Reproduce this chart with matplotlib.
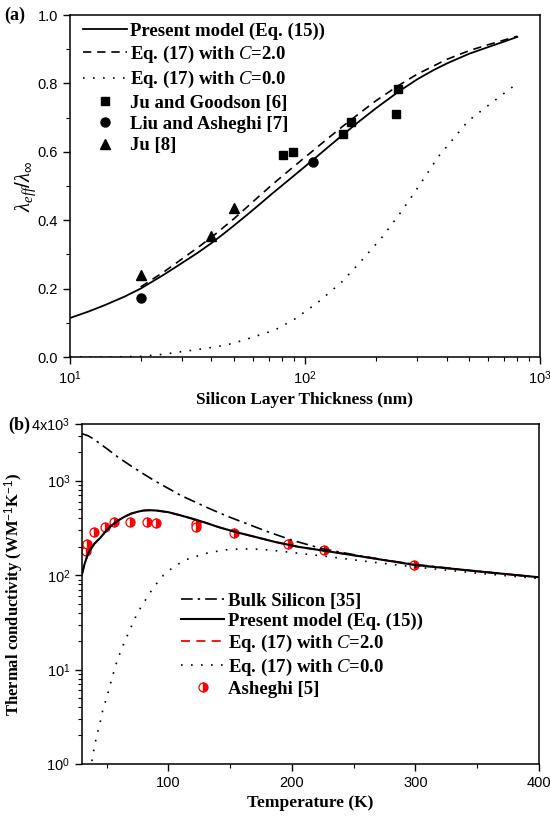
import numpy as np
import matplotlib
matplotlib.use("Agg")
import matplotlib.pyplot as plt
from matplotlib.ticker import LogLocator, NullFormatter, FixedLocator, MultipleLocator

# ---- panel (a): normalised conductivity vs. layer thickness ----
thick_model = [10, 12, 14, 17, 20, 25, 30, 35, 40, 45, 50, 57, 64, 72, 81, 90, 100, 108, 125,
               145, 170, 200, 250, 300, 350, 400, 500, 600, 700, 800]
model_a = [0.114, 0.133, 0.151, 0.176, 0.200, 0.240, 0.275, 0.305, 0.333, 0.360, 0.385, 0.417,
           0.446, 0.476, 0.505, 0.531, 0.557, 0.576, 0.613, 0.650, 0.689, 0.727, 0.776, 0.812,
           0.838, 0.858, 0.887, 0.906, 0.922, 0.936]
thick_c2 = [20, 25, 30, 35, 40, 45, 50, 57, 64, 72, 81, 90, 100, 125, 145, 170, 200, 250, 300,
            400, 500, 600, 800]
c2_a = [0.205, 0.248, 0.287, 0.320, 0.350, 0.379, 0.405, 0.440, 0.471, 0.502, 0.532, 0.558,
        0.584, 0.639, 0.675, 0.712, 0.749, 0.794, 0.827, 0.870, 0.896, 0.913, 0.938]
thick_c0 = [10, 15, 20, 25, 29.4, 35, 42, 49.5, 60, 74.5, 90, 113.6, 143.7, 175, 212.6, 256,
            285, 330, 368, 430, 494, 600, 700, 798]
c0_a = [0.0, 0.0, 0.002, 0.008, 0.015, 0.022, 0.03, 0.04, 0.058, 0.079, 0.11, 0.16, 0.22,
        0.284, 0.35, 0.424, 0.47, 0.535, 0.585, 0.64, 0.69, 0.735, 0.77, 0.80]
ju_goodson_x = [81, 89, 145, 157, 244, 249]
ju_goodson_y = [0.59, 0.60, 0.652, 0.687, 0.71, 0.784]
liu_x = [20, 108]
liu_y = [0.173, 0.57]
ju_x = [20, 40, 50]
ju_y = [0.24, 0.354, 0.436]

# ---- panel (b): thermal conductivity vs. temperature ----
temp_bulk = [30, 35, 40, 45, 50, 60, 70, 80, 90, 100, 110, 120, 130, 140, 150, 165, 180, 200,
             225, 250, 275, 300, 350, 400]
bulk_k = [3160, 3000, 2750, 2450, 2200, 1750, 1430, 1180, 980, 830, 700, 610, 530, 465, 410,
          345, 290, 235, 190, 165, 145, 130, 110, 95]
temp_model = [30, 32, 35, 40, 45, 50, 55, 60, 65, 70, 75, 80, 85, 90, 100, 110, 120, 130, 140,
              153, 170, 187, 205, 228, 260, 300, 350, 400]
model_k = [102, 130, 170, 215, 250, 300, 345, 385, 420, 450, 470, 485, 488, 485, 465, 430, 395,
           360, 325, 290, 255, 224, 200, 180, 155, 128, 110, 95]
temp_c0 = [38, 40, 42, 44.6, 47, 50, 53, 57, 60, 64, 68, 71.5, 75, 80, 85, 90, 96, 105, 115,
           130, 145, 160, 175, 190, 210, 228, 260, 300, 350, 400]
c0_k = [1.07, 1.5, 2.0, 2.7, 3.8, 5.0, 7.0, 10.8, 14, 19, 25, 31.6, 40, 51, 65, 80, 100, 125,
        147, 170, 185, 190, 188, 180, 168, 158, 140, 122, 105, 92]
ash_t = [33, 34, 40, 49, 56, 69, 83, 90, 122, 122, 153, 197, 226, 299]
ash_k = [180, 215, 290, 325, 365, 365, 365, 355, 345, 325, 280, 213, 185, 128]

plt.rcParams["font.family"] = ["Liberation Sans", "DejaVu Sans"]
plt.rcParams["font.size"] = 10.5
plt.rcParams["mathtext.fontset"] = "custom"
plt.rcParams["mathtext.rm"] = "Liberation Sans"
plt.rcParams["mathtext.it"] = "Liberation Serif:italic"
plt.rcParams["mathtext.bf"] = "Liberation Serif:bold"

serif_bold = dict(family="Liberation Serif", weight="bold")
legend_font = dict(family="Liberation Serif", weight="bold", size=13.5)

fig = plt.figure(figsize=(5.5, 8.17), dpi=100)
ax1 = fig.add_axes([0.127, 0.563, 0.855, 0.4186])
ax2 = fig.add_axes([0.149, 0.065, 0.831, 0.416])

# panel (a)
ax1.plot(thick_model, model_a, "k-", lw=1.3, label="Present model (Eq. (15))")
ax1.plot(thick_c2, c2_a, "k--", lw=1.2, dashes=(5, 3.5), label="Eq. (17) with $\\mathit{C}$=2.0")
ax1.plot(thick_c0, c0_a, "k:", lw=1.2, dashes=(1, 5), label="Eq. (17) with $\\mathit{C}$=0.0")
ax1.plot(ju_goodson_x, ju_goodson_y, "ks", ms=6, ls="none", label="Ju and Goodson [6]")
ax1.plot(liu_x, liu_y, "ko", ms=6.5, ls="none", label="Liu and Asheghi [7]")
ax1.plot(ju_x, ju_y, "k^", ms=7, ls="none", label="Ju [8]")

ax1.set_xscale("log")
ax1.set_xlim(10, 1000)
ax1.set_ylim(0, 1.0)
ax1.yaxis.set_major_locator(MultipleLocator(0.2))
ax1.yaxis.set_minor_locator(MultipleLocator(0.1))
ax1.yaxis.set_major_formatter(matplotlib.ticker.FormatStrFormatter("%.1f"))
ax1.xaxis.set_major_locator(FixedLocator([10, 100, 1000]))
ax1.set_xticklabels(["$10^1$", "$10^2$", "$10^3$"])
ax1.xaxis.set_minor_locator(LogLocator(base=10, subs=np.arange(2, 10)))
ax1.xaxis.set_minor_formatter(NullFormatter())
ax1.set_xlabel("Silicon Layer Thickness (nm)", fontsize=12.5, labelpad=4, **serif_bold)
ax1.set_ylabel(r"$\lambda_{eff}/\lambda_{\infty}$", fontsize=15, labelpad=0)
ax1.legend(loc="upper left", bbox_to_anchor=(0.013, 1.0), frameon=False, handlelength=2.3,
           handletextpad=0.2, labelspacing=0.22, borderaxespad=0.1, borderpad=0.3,
           prop=legend_font)
fig.text(0.008, 0.975, "(a)", fontsize=13, **serif_bold)

# panel (b)
ax2.plot(temp_bulk, bulk_k, "k-.", lw=1.2, dashes=(7, 3, 1.5, 3), label="Bulk Silicon [35]")
ax2.plot(temp_model, model_k, "k-", lw=1.5, label="Present model (Eq. (15))", zorder=3)
ax2.plot(temp_model, model_k, color="red", ls="--", lw=1.3, dashes=(5, 3.5),
         label="Eq. (17) with $\\mathit{C}$=2.0", zorder=2)
ax2.plot(temp_c0, c0_k, "k:", lw=1.2, dashes=(1, 5), label="Eq. (17) with $\\mathit{C}$=0.0")
ax2.plot(ash_t, ash_k, ls="none", marker="o", ms=6.5, fillstyle="right", markerfacecolor="red",
         markerfacecoloralt="white", markeredgecolor="red", markeredgewidth=0.9,
         label="Asheghi [5]", zorder=1)

ax2.set_yscale("log")
ax2.set_xlim(30, 400)
ax2.set_ylim(1, 4000)
ax2.xaxis.set_major_locator(FixedLocator([100, 200, 300, 400]))
ax2.xaxis.set_minor_locator(FixedLocator([50, 150, 250, 350]))
ax2.yaxis.set_major_locator(FixedLocator([1, 10, 100, 1000, 4000]))
ax2.set_yticklabels(["$10^0$", "$10^1$", "$10^2$", "$10^3$", "4x$10^3$"])
ax2.yaxis.set_minor_locator(LogLocator(base=10, subs=np.arange(2, 10)))
ax2.yaxis.set_minor_formatter(NullFormatter())
ax2.set_xlabel("Temperature (K)", fontsize=12.5, labelpad=4, **serif_bold)
ax2.set_ylabel("Thermal conductivity (WM$^{-1}$K$^{-1}$)", fontsize=12, labelpad=4, **serif_bold)
ax2.legend(loc="lower left", bbox_to_anchor=(0.18, 0.145), frameon=False, handlelength=2.3,
           handletextpad=0.2, labelspacing=0.15, prop=legend_font)
fig.text(0.015, 0.474, "(b)", fontsize=13, **serif_bold)

for ax in (ax1, ax2):
    ax.tick_params(which="major", direction="out", length=5, width=1.0, labelsize=10.5)
    ax.tick_params(which="minor", direction="out", length=3, width=0.8)
    for s in ax.spines.values():
        s.set_linewidth(1.1)

fig.savefig("out.png", dpi=100)
